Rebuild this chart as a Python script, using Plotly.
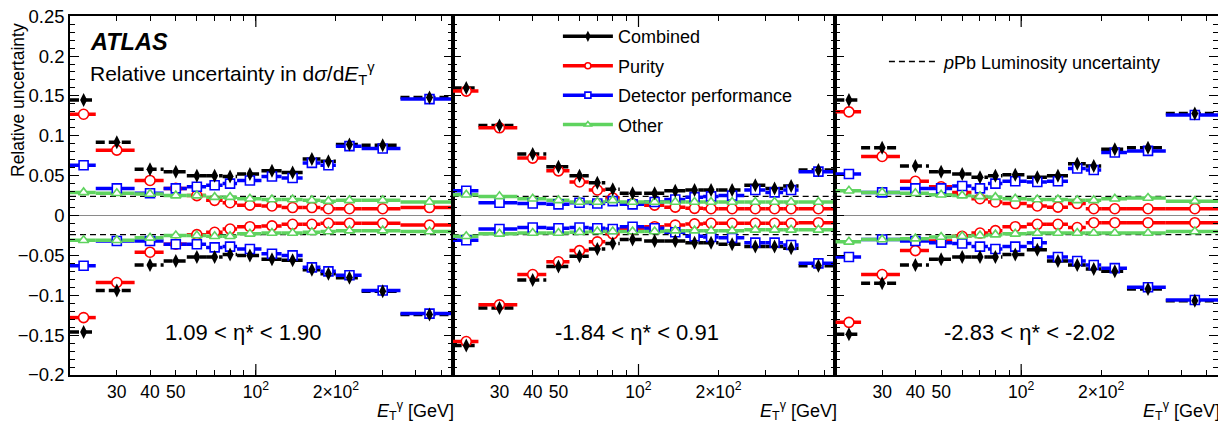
import plotly.graph_objects as go
from plotly.subplots import make_subplots

# ---------------- data ----------------
edges_p1 = [20, 25, 35, 45, 55, 65, 75, 85, 105, 125, 150, 175, 200, 250, 350, 550]
edges_p2 = [20, 25, 35, 45, 55, 65, 75, 85, 105, 125, 150, 175, 200, 250, 300, 350, 400, 550]
edges_p3 = [20, 25, 35, 45, 55, 65, 75, 85, 105, 125, 150, 175, 200, 250, 350, 550]

lumi_unc = 0.024

# panel 1 : 1.09 < eta* < 1.90
p1_comb_up = [0.145, 0.092, 0.058, 0.055, 0.050, 0.050, 0.049, 0.052, 0.056, 0.054, 0.071, 0.068, 0.089, 0.088, 0.148]
p1_comb_dn = [-0.146, -0.094, -0.062, -0.057, -0.052, -0.052, -0.049, -0.050, -0.055, -0.056, -0.068, -0.073, -0.078, -0.095, -0.124]
p1_pur_up = [0.127, 0.082, 0.044, 0.034, 0.025, 0.019, 0.016, 0.013, 0.012, 0.010, 0.010, 0.0085, 0.0085, 0.0085, 0.010]
p1_pur_dn = [-0.128, -0.084, -0.046, -0.036, -0.024, -0.021, -0.017, -0.014, -0.013, -0.011, -0.011, -0.0097, -0.0097, -0.0097, -0.012]
p1_det_up = [0.063, 0.034, 0.028, 0.034, 0.036, 0.038, 0.040, 0.044, 0.049, 0.047, 0.066, 0.063, 0.087, 0.084, 0.146]
p1_det_dn = [-0.063, -0.032, -0.032, -0.036, -0.036, -0.040, -0.039, -0.042, -0.048, -0.050, -0.065, -0.070, -0.075, -0.094, -0.123]
p1_oth_up = [0.029, 0.028, 0.027, 0.025, 0.025, 0.023, 0.023, 0.021, 0.020, 0.020, 0.019, 0.018, 0.019, 0.019, 0.017]
p1_oth_dn = [-0.031, -0.031, -0.028, -0.025, -0.025, -0.026, -0.026, -0.023, -0.022, -0.022, -0.021, -0.020, -0.019, -0.019, -0.020]

# panel 2 : -1.84 < eta* < 0.91
p2_comb_up = [0.160, 0.113, 0.077, 0.061, 0.050, 0.041, 0.033, 0.028, 0.028, 0.031, 0.032, 0.032, 0.032, 0.038, 0.034, 0.037, 0.057]
p2_comb_dn = [-0.163, -0.116, -0.081, -0.064, -0.051, -0.042, -0.035, -0.030, -0.032, -0.032, -0.034, -0.034, -0.036, -0.039, -0.039, -0.041, -0.063]
p2_pur_up = [0.156, 0.110, 0.072, 0.056, 0.042, 0.032, 0.022, 0.015, 0.013, 0.0105, 0.009, 0.0085, 0.0085, 0.0085, 0.0085, 0.0085, 0.0085]
p2_pur_dn = [-0.158, -0.112, -0.074, -0.058, -0.044, -0.033, -0.023, -0.017, -0.014, -0.012, -0.0105, -0.0097, -0.0097, -0.0097, -0.0097, -0.0097, -0.009]
p2_det_up = [0.031, 0.016, 0.015, 0.014, 0.016, 0.015, 0.018, 0.014, 0.017, 0.020, 0.023, 0.024, 0.025, 0.032, 0.029, 0.032, 0.055]
p2_det_dn = [-0.031, -0.017, -0.015, -0.016, -0.015, -0.016, -0.017, -0.014, -0.016, -0.021, -0.026, -0.027, -0.028, -0.034, -0.034, -0.037, -0.060]
p2_oth_up = [0.026, 0.024, 0.021, 0.019, 0.017, 0.017, 0.019, 0.017, 0.017, 0.017, 0.017, 0.017, 0.017, 0.017, 0.017, 0.017, 0.017]
p2_oth_dn = [-0.026, -0.023, -0.022, -0.022, -0.021, -0.020, -0.020, -0.020, -0.020, -0.019, -0.019, -0.019, -0.019, -0.018, -0.018, -0.018, -0.018]

# panel 3 : -2.83 < eta* < -2.02
p3_comb_up = [0.145, 0.085, 0.062, 0.055, 0.052, 0.048, 0.050, 0.051, 0.048, 0.050, 0.065, 0.062, 0.083, 0.085, 0.128]
p3_comb_dn = [-0.149, -0.085, -0.062, -0.055, -0.052, -0.052, -0.052, -0.049, -0.043, -0.057, -0.062, -0.067, -0.070, -0.092, -0.107]
p3_pur_up = [0.130, 0.074, 0.043, 0.036, 0.029, 0.021, 0.017, 0.015, 0.012, 0.0105, 0.015, 0.0085, 0.0085, 0.0085, 0.0085]
p3_pur_dn = [-0.134, -0.074, -0.044, -0.032, -0.026, -0.022, -0.019, -0.014, -0.011, -0.011, -0.015, -0.009, -0.009, -0.009, -0.009]
p3_det_up = [0.052, 0.029, 0.034, 0.034, 0.037, 0.034, 0.040, 0.043, 0.042, 0.043, 0.059, 0.057, 0.079, 0.081, 0.126]
p3_det_dn = [-0.052, -0.030, -0.032, -0.034, -0.035, -0.039, -0.042, -0.039, -0.034, -0.052, -0.057, -0.062, -0.066, -0.090, -0.106]
p3_oth_up = [0.031, 0.029, 0.028, 0.026, 0.025, 0.024, 0.023, 0.021, 0.020, 0.020, 0.019, 0.019, 0.021, 0.022, 0.018]
p3_oth_dn = [-0.033, -0.030, -0.029, -0.027, -0.026, -0.025, -0.024, -0.023, -0.022, -0.022, -0.022, -0.022, -0.022, -0.022, -0.020]

panel_labels = ["1.09 < η* < 1.90", "-1.84 < η* < 0.91", "-2.83 < η* < -2.02"]
series_names = ["Combined", "Purity", "Detector performance", "Other"]
x_tickvals = [30, 40, 50, 100, 200]
x_ticktext = ["30", "40", "50", "10<sup>2</sup>", "2×10<sup>2</sup>"]
x_minorvals = [60, 70, 80, 90, 300, 400, 500]
y_tickvals = [0.25, 0.2, 0.15, 0.1, 0.05, 0, -0.05, -0.1, -0.15, -0.2]
y_ticktext = ["0.25", "0.2", "0.15", "0.1", "0.05", "0", "−0.05", "−0.1", "−0.15", "−0.2"]

panels = [
    dict(edges=edges_p1, comb=(p1_comb_up, p1_comb_dn), pur=(p1_pur_up, p1_pur_dn),
         det=(p1_det_up, p1_det_dn), oth=(p1_oth_up, p1_oth_dn)),
    dict(edges=edges_p2, comb=(p2_comb_up, p2_comb_dn), pur=(p2_pur_up, p2_pur_dn),
         det=(p2_det_up, p2_det_dn), oth=(p2_oth_up, p2_oth_dn)),
    dict(edges=edges_p3, comb=(p3_comb_up, p3_comb_dn), pur=(p3_pur_up, p3_pur_dn),
         det=(p3_det_up, p3_det_dn), oth=(p3_oth_up, p3_oth_dn)),
]

# ---------------- style ----------------
FONT = "Liberation Sans, Arial, sans-serif"
COL = dict(comb="black", pur="#ff0000", det="#0000ff", oth="#5fd35f")
SYM = dict(comb="diamond-tall", pur="circle", det="square", oth="triangle-up")
MSIZE = dict(comb=10, pur=10, det=9, oth=9)
KEYS = ["comb", "pur", "det", "oth"]
LW = 3.5

fig = make_subplots(rows=1, cols=3, shared_yaxes=True, horizontal_spacing=0)


def segments(edges, vals):
    xs, ys = [], []
    for lo, hi, v in zip(edges[:-1], edges[1:], vals):
        xs += [lo, hi, None]
        ys += [v, v, None]
    return xs, ys


def marker_style(key, size):
    if key == "comb":
        return dict(symbol=SYM[key], size=size, color="black", line=dict(width=0))
    return dict(symbol=SYM[key], size=size, color="white", line=dict(color=COL[key], width=1.6))


for c, p in enumerate(panels, start=1):
    e = p["edges"]
    centers = [(lo + hi) / 2 for lo, hi in zip(e[:-1], e[1:])]
    for s in (1, -1):
        fig.add_trace(go.Scatter(x=[e[0], e[-1]], y=[s * lumi_unc, s * lumi_unc], mode="lines",
                                 line=dict(color="black", width=1.3, dash="6px,4px"),
                                 showlegend=False, hoverinfo="skip"), row=1, col=c)
    for key in KEYS:
        for vals in p[key]:
            xs, ys = segments(e, vals)
            fig.add_trace(go.Scatter(x=xs, y=ys, mode="lines",
                                     line=dict(color=COL[key], width=LW,
                                               dash="9px,4px" if key == "comb" else "solid"),
                                     showlegend=False, hoverinfo="skip"), row=1, col=c)
    for key in ["pur", "det", "oth", "comb"]:
        for vals in p[key]:
            fig.add_trace(go.Scatter(x=centers, y=vals, mode="markers",
                                     marker=marker_style(key, MSIZE[key]),
                                     showlegend=False), row=1, col=c)

# legend entries
for i, key in enumerate(KEYS):
    fig.add_trace(go.Scatter(x=[None], y=[None], mode="lines+markers", name=series_names[i],
                             legend="legend", legendgroup=key,
                             line=dict(color=COL[key], width=LW),
                             marker=marker_style(key, 8 if key == "comb" else 6)), row=1, col=2)
fig.add_trace(go.Scatter(x=[None], y=[None], mode="lines", name="<i>p</i>Pb Luminosity uncertainty",
                         legend="legend2", line=dict(color="black", width=1.5, dash="6px,4px")),
              row=1, col=3)

# axes
for c in range(1, 4):
    fig.update_xaxes(type="log", range=[1.30103, 2.74036], row=1, col=c,
                     tickvals=x_tickvals, ticktext=x_ticktext, ticks="inside", ticklen=5,
                     tickwidth=1.2, tickcolor="black",
                     minor=dict(tickmode="array", tickvals=x_minorvals, ticks="inside",
                                ticklen=5, tickwidth=1.2, tickcolor="black"),
                     showline=True, linecolor="black", linewidth=1.6, mirror="ticks",
                     showgrid=False, zeroline=False, ticklabeloverflow="allow", automargin=False,
                     tickfont=dict(family=FONT, size=17.5, color="black"))
    fig.update_yaxes(range=[-0.2, 0.2502], row=1, col=c,
                     tickvals=y_tickvals, ticktext=y_ticktext, ticks="inside", ticklen=9,
                     tickwidth=1.2, tickcolor="black",
                     minor=dict(dtick=0.01, tick0=0, ticks="inside", ticklen=5,
                                tickwidth=1.2, tickcolor="black"),
                     showline=True, linecolor="black", linewidth=1.6, mirror="ticks",
                     showgrid=False, zeroline=True, zerolinecolor="#8a8a8a", zerolinewidth=1.2,
                     ticklabeloverflow="allow", automargin=False,
                     tickfont=dict(family=FONT, size=18.5, color="black"))

# long tick at 10^2 (bottom and top) in each panel
shapes = []
for c in range(1, 4):
    xr = "x" if c == 1 else f"x{c}"
    yr = "y" if c == 1 else f"y{c}"
    shapes.append(dict(type="line", xref=xr, yref=yr, x0=100, x1=100, ysizemode="pixel",
                       yanchor=-0.2, y0=0, y1=11, line=dict(color="black", width=1.2)))
    shapes.append(dict(type="line", xref=xr, yref=yr, x0=100, x1=100, ysizemode="pixel",
                       yanchor=0.2502, y0=0, y1=-11, line=dict(color="black", width=1.2)))

annotations = []
annotations.append(dict(xref="paper", yref="paper", x=0.0157, y=0.9276, xanchor="left", yanchor="middle",
                        text="<b><i>ATLAS</i></b>", showarrow=False,
                        font=dict(family=FONT, size=23.5, color="black")))
annotations.append(dict(xref="paper", yref="paper", x=0.0157, y=0.841, xanchor="left", yanchor="middle",
                        text="Relative uncertainty in d<i>σ</i>/d<i>E</i><sub>T</sub><sup>γ</sup>", showarrow=False,
                        font=dict(family=FONT, size=21, color="black")))
for xc, lab in zip([0.1507, 0.494, 0.836], panel_labels):
    annotations.append(dict(xref="paper", yref="paper", x=xc, y=0.117, xanchor="center", yanchor="middle",
                            text=lab, showarrow=False, font=dict(family=FONT, size=22, color="black")))
for xr in [0.3363, 0.6699, 1.0035]:
    annotations.append(dict(xref="paper", yref="paper", x=xr, y=-0.0975, xanchor="right", yanchor="middle",
                            text="<i>E</i><sub>T</sub><sup>γ</sup> [GeV]", showarrow=False,
                            font=dict(family=FONT, size=18, color="black")))
annotations.append(dict(xref="paper", yref="paper", x=-0.0453, y=0.766, xanchor="center", yanchor="middle",
                        text="Relative uncertainty", textangle=-90, showarrow=False,
                        font=dict(family=FONT, size=17.5, color="black")))

fig.update_layout(
    width=1218, height=414,
    margin=dict(l=62, r=8, t=8, b=47, autoexpand=False),
    paper_bgcolor="white", plot_bgcolor="white",
    font=dict(family=FONT, size=17, color="black"),
    shapes=shapes, annotations=annotations,
    legend=dict(x=0.425, y=0.994, xanchor="left", yanchor="top", font=dict(family=FONT, size=18),
                itemwidth=50, tracegroupgap=3, traceorder="grouped", bgcolor="rgba(0,0,0,0)"),
    legend2=dict(x=0.709, y=0.924, xanchor="left", yanchor="top", font=dict(family=FONT, size=18),
                 itemwidth=50, bgcolor="rgba(0,0,0,0)"),
    hovermode=False,
)

fig.write_html("out.html")
